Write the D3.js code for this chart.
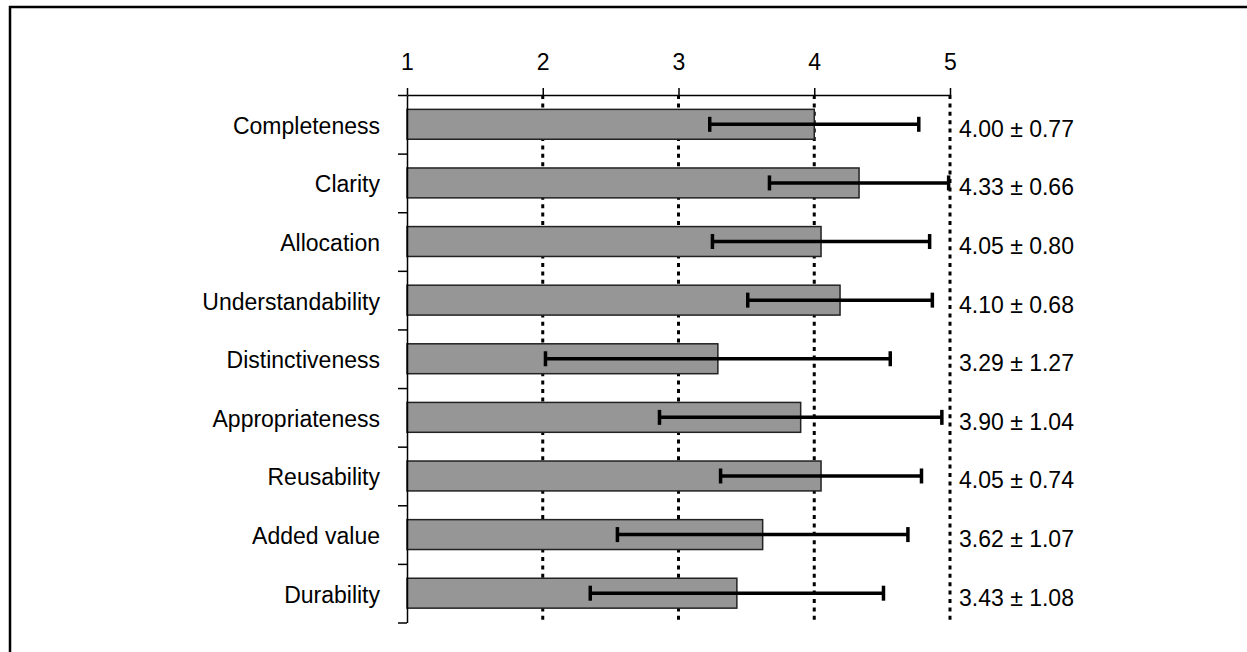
<!DOCTYPE html>
<html>
<head>
<meta charset="utf-8">
<script src="https://cdn.jsdelivr.net/npm/d3@7"></script>
<style>
  html, body { margin: 0; padding: 0; background: #fff; }
  svg text { font-family: "Liberation Sans", Arial, sans-serif; fill: #000; }
</style>
</head>
<body>
<div id="chart"></div>
<script>
// Данные
const categories = [
  "Completeness", "Clarity", "Allocation", "Understandability",
  "Distinctiveness", "Appropriateness", "Reusability", "Added value", "Durability"
];
const means = [4.00, 4.33, 4.05, 4.19, 3.29, 3.90, 4.05, 3.62, 3.43];
const sds = [0.77, 0.66, 0.80, 0.68, 1.27, 1.04, 0.74, 1.07, 1.08];
const valueLabels = [
  "4.00 ± 0.77", "4.33 ± 0.66", "4.05 ± 0.80", "4.10 ± 0.68", "3.29 ± 1.27",
  "3.90 ± 1.04", "4.05 ± 0.74", "3.62 ± 1.07", "3.43 ± 1.08"
];
const xTicks = [1, 2, 3, 4, 5];

const width = 1247;
const height = 652;
const plotLeft = 407;
const plotRight = 950;
const plotTop = 95;
const plotBottom = 622.5;

const svg = d3.select("#chart")
  .append("svg")
  .attr("width", width)
  .attr("height", height);

// Рамка вокруг всего рисунка (уходит за правый и нижний край)
svg.append("rect")
  .attr("x", 10)
  .attr("y", 7)
  .attr("width", 1400)
  .attr("height", 800)
  .attr("fill", "none")
  .attr("stroke", "#000")
  .attr("stroke-width", 2.5);

const xScale = d3.scaleLinear().domain([1, 5]).range([plotLeft, plotRight]);

const yScale = d3.scaleBand()
  .domain(categories)
  .range([plotTop, plotBottom])
  .paddingInner(0.49)
  .paddingOuter(0.245);

const rowScale = d3.scaleLinear()
  .domain([0, categories.length])
  .range([plotTop, plotBottom]);

const step = yScale.step();
const center = (c) => yScale(c) + yScale.bandwidth() / 2;

// Пунктирная сетка
svg.append("g")
  .attr("class", "grid")
  .selectAll("line")
  .data(xTicks.slice(1))
  .join("line")
  .attr("x1", (d) => xScale(d))
  .attr("x2", (d) => xScale(d))
  .attr("y1", plotTop)
  .attr("y2", plotBottom)
  .attr("stroke", "#000")
  .attr("stroke-width", 3)
  .attr("stroke-dasharray", "4,4.4");

// Столбики
svg.append("g")
  .selectAll("rect")
  .data(categories)
  .join("rect")
  .attr("x", xScale(1))
  .attr("y", (d) => yScale(d))
  .attr("width", (d, i) => xScale(means[i]) - xScale(1))
  .attr("height", yScale.bandwidth())
  .attr("fill", "#969696")
  .attr("stroke", "#222")
  .attr("stroke-width", 1.5);

// Планки погрешностей
const err = svg.append("g").attr("class", "errors");
categories.forEach((c, i) => {
  const cy = center(c);
  const lo = xScale(means[i] - sds[i]);
  const hi = xScale(means[i] + sds[i]);
  err.append("line")
    .attr("x1", lo).attr("x2", hi)
    .attr("y1", cy).attr("y2", cy)
    .attr("stroke", "#000").attr("stroke-width", 3.5);
  [lo, hi].forEach((x) => {
    err.append("line")
      .attr("x1", x).attr("x2", x)
      .attr("y1", cy - 7.5).attr("y2", cy + 7.5)
      .attr("stroke", "#000").attr("stroke-width", 3.5);
  });
});

// Верхняя ось
const xAxis = svg.append("g")
  .attr("transform", `translate(0, ${plotTop})`)
  .call(d3.axisTop(xScale).tickValues(xTicks).tickFormat(d3.format("d"))
    .tickSize(7).tickSizeOuter(0).tickPadding(18));
xAxis.selectAll("path, line").attr("stroke", "#000").attr("stroke-width", 1.5);
xAxis.selectAll("text").attr("font-size", "23px").attr("fill", "#000");

// Левая ось: засечки на границах строк
const yAxis = svg.append("g")
  .attr("transform", `translate(${plotLeft}, 0)`)
  .call(d3.axisLeft(rowScale).ticks(categories.length).tickFormat("")
    .tickSize(9).tickSizeOuter(0));
yAxis.selectAll("path, line").attr("stroke", "#000").attr("stroke-width", 1.5);

// Подписи категорий
svg.append("g")
  .selectAll("text")
  .data(categories)
  .join("text")
  .attr("x", 380)
  .attr("y", (d) => center(d) + 9.5)
  .attr("text-anchor", "end")
  .attr("font-size", "23px")
  .text((d) => d);

// Подписи значений справа
svg.append("g")
  .selectAll("text")
  .data(categories)
  .join("text")
  .attr("x", 959)
  .attr("y", (d) => center(d) + 12.5)
  .attr("font-size", "23px")
  .text((d, i) => valueLabels[i]);
</script>
</body>
</html>
